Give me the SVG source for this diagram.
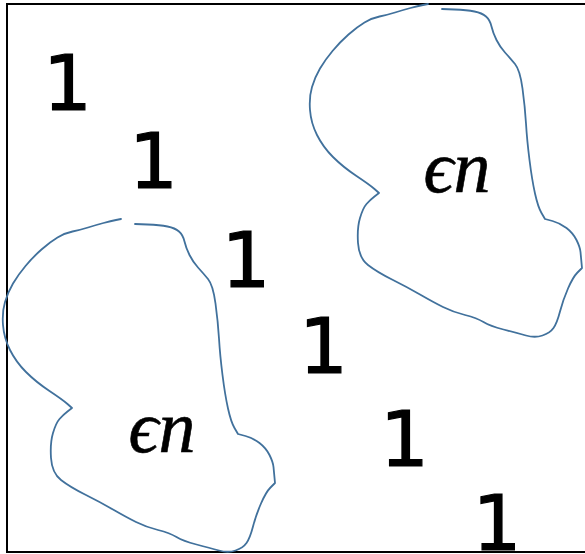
<svg xmlns="http://www.w3.org/2000/svg" xmlns:xlink="http://www.w3.org/1999/xlink" width="585" height="554" viewBox="0 0 585 554">
<style>
.frame{fill:none;stroke:#000;stroke-width:2}
.blob{fill:none;stroke:#41719C;stroke-width:1.8;stroke-linejoin:round;stroke-linecap:round}
.one{font-family:"DejaVu Sans","Liberation Sans",sans-serif;font-size:77px;fill:#000;stroke:#000;stroke-width:1.2;text-anchor:middle}
.math{font-family:"Liberation Serif","DejaVu Serif",serif;font-style:italic;font-size:74px;fill:#000;stroke:#000;stroke-width:0.6;text-anchor:middle}
</style>
<defs>
<path id="blobShape" d="M428,4 L423,5 Q418,6 410.5,8 Q403,10 395,12.5 Q387,15 379.5,16.5 Q372,18 364.5,22.5 Q357,27 348.5,34.5 Q340,42 332.5,51 Q325,60 320,68.5 Q315,77 312,87 Q309,97 310,110 Q311,123 317,135 Q323,147 333,157 Q343,167 356.5,176 Q370,185 374.5,189 L379,193 L374.5,196.5 Q370,200 366.5,204 Q363,208 360,218 Q357,228 358,243 Q359,258 368,265 Q377,272 392,279.5 Q407,287 420,294.5 Q433,302 443,307 Q453,312 465,315 Q477,318 483.5,322 Q490,326 503.5,329.5 Q517,333 526,335.5 Q535,338 542.5,335.5 Q550,333 553.5,328 Q557,323 560,311.5 Q563,300 568,288.5 Q573,277 577.5,272.5 L582,268 Q581,257.5 580.5,252 Q580,247 576.5,240 Q573,233 566.5,228 Q560,223 552.5,221 L545,219 L541.5,213 Q538,207 535,193.5 Q532,180 529.5,160 Q527,140 526,123.5 Q525,107 522.5,88.5 Q520,70 515,64 Q510,58 505,52.5 Q500,47 496.5,40 Q493,33 491.5,26.5 Q490,20 486,16.5 Q482,13 474.5,11.5 Q467,10 454.5,9.5 L442,9"/>
</defs>
<rect x="0" y="0" width="585" height="554" fill="#fff"/>
<g id="frame">
<path class="frame" d="M590,4 H7 V552 H590"/>
</g>
<g id="region-right">
<use xlink:href="#blobShape" href="#blobShape" class="blob"/>
<text class="math" x="457" y="191.5">ϵn</text>
</g>
<g id="region-left">
<use xlink:href="#blobShape" href="#blobShape" class="blob" transform="translate(-307,215)"/>
<text class="math" x="162" y="451.5">ϵn</text>
</g>
<g id="one-1"><text class="one" x="67.5" y="109.5">1</text></g>
<g id="one-2"><text class="one" x="153.5" y="187.5">1</text></g>
<g id="one-3"><text class="one" x="246" y="286.5">1</text></g>
<g id="one-4"><text class="one" x="323.5" y="372.5">1</text></g>
<g id="one-5"><text class="one" x="404.5" y="465.5">1</text></g>
<g id="one-6"><text class="one" x="497" y="549.5">1</text></g>
<g id="connectors"></g>
</svg>
